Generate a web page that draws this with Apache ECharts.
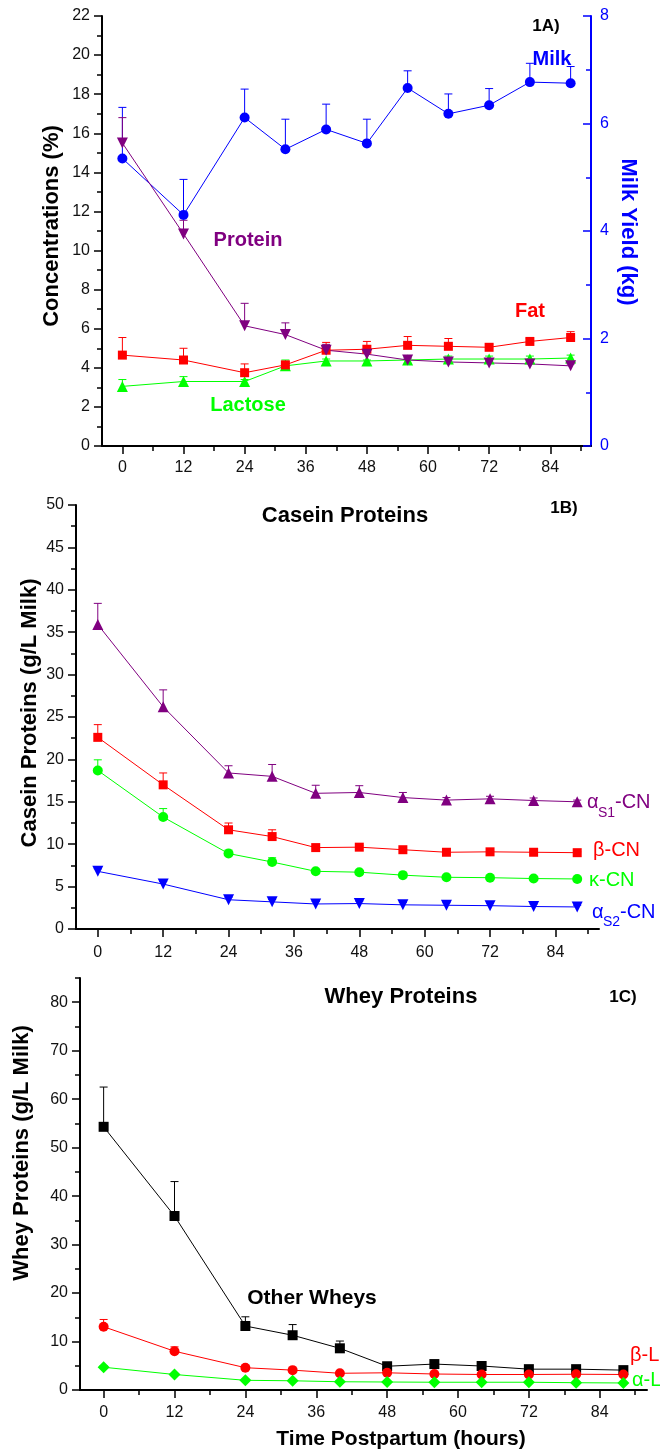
<!DOCTYPE html>
<html>
<head>
<meta charset="utf-8">
<script src="https://cdn.jsdelivr.net/npm/echarts@6/dist/echarts.min.js"></script>
<style>
  html, body { margin: 0; padding: 0; background: #fff; }
  #chart { width: 660px; height: 1452px; }
</style>
</head>
<body>
<div id="chart"></div>
<script>
const FONT = '"Liberation Sans", Arial, sans-serif';

// time points (hours postpartum)
const hours = [0, 12, 24, 32, 40, 48, 56, 64, 72, 80, 88];
const xMajor = [0, 12, 24, 36, 48, 60, 72, 84];
const xMinor = [6, 18, 30, 42, 54, 66, 78, 90];

// 1A) concentrations (%) and milk yield (kg)
const protein = [15.5, 10.85, 6.15, 5.7, 4.9, 4.7, 4.4, 4.3, 4.25, 4.2, 4.1];
const proteinErr = [1.3, 0.7, 1.15, 0.6, 0.3, 0.2, 0.1, 0.1, 0.1, 0.1, 0.1];
const fat = [4.65, 4.4, 3.75, 4.15, 4.9, 4.95, 5.15, 5.1, 5.05, 5.35, 5.55];
const fatErr = [0.9, 0.6, 0.45, 0.15, 0.4, 0.4, 0.45, 0.4, 0.15, 0.15, 0.3];
const lactose = [3.05, 3.3, 3.3, 4.1, 4.35, 4.35, 4.4, 4.45, 4.45, 4.45, 4.5];
const lactoseErr = [0.35, 0.25, 0.1, 0.3, 0.1, 0.05, 0.1, 0.15, 0.15, 0.15, 0.15];
const milk = [5.35, 4.3, 6.11, 5.52, 5.89, 5.63, 6.66, 6.18, 6.34, 6.77, 6.75];
const milkErr = [0.95, 0.66, 0.53, 0.56, 0.47, 0.45, 0.32, 0.37, 0.31, 0.35, 0.31];
const concMajor = [0, 2, 4, 6, 8, 10, 12, 14, 16, 18, 20, 22];
const concMinor = [1, 3, 5, 7, 9, 11, 13, 15, 17, 19, 21];
const yieldMajor = [0, 2, 4, 6, 8];
const yieldMinor = [1, 3, 5, 7];

// 1B) casein proteins (g/L milk)
const as1CN = [35.9, 26.2, 18.4, 18.0, 16.0, 16.1, 15.5, 15.2, 15.35, 15.15, 15.0];
const as1Err = [2.5, 2.0, 0.85, 1.4, 0.95, 0.8, 0.6, 0.3, 0.3, 0.3, 0.2];
const betaCN = [22.6, 17.0, 11.7, 10.9, 9.6, 9.65, 9.35, 9.05, 9.1, 9.05, 9.0];
const betaErr = [1.5, 1.4, 0.8, 0.8, 0.2, 0.2, 0.2, 0.2, 0.1, 0.1, 0.1];
const kappaCN = [18.7, 13.2, 8.9, 7.9, 6.8, 6.7, 6.35, 6.1, 6.05, 5.95, 5.9];
const kappaErr = [1.25, 1.0, 0.4, 0.5, 0.2, 0.2, 0.15, 0.1, 0.1, 0.1, 0.1];
const as2CN = [6.8, 5.3, 3.45, 3.2, 2.95, 3.0, 2.85, 2.8, 2.75, 2.65, 2.6];
const as2Err = [0.3, 0.3, 0.3, 0.3, 0.3, 0.3, 0.3, 0.3, 0.3, 0.3, 0.2];
const caseinMajor = [0, 5, 10, 15, 20, 25, 30, 35, 40, 45, 50];
const caseinMinor = [2.5, 7.5, 12.5, 17.5, 22.5, 27.5, 32.5, 37.5, 42.5, 47.5];

// 1C) whey proteins (g/L milk)
const otherWhey = [54.3, 35.9, 13.2, 11.3, 8.6, 4.9, 5.35, 4.95, 4.3, 4.3, 4.1];
const otherErr = [8.2, 7.1, 1.9, 2.2, 1.5, 0.3, 0.3, 0.3, 0.3, 0.3, 0.3];
const betaLg = [13.05, 8.0, 4.6, 4.1, 3.45, 3.55, 3.3, 3.2, 3.2, 3.25, 3.2];
const betaLgErr = [1.5, 0.9, 0.3, 0.2, 0.2, 0.2, 0.2, 0.2, 0.2, 0.2, 0.2];
const alphaLa = [4.7, 3.2, 2.0, 1.9, 1.7, 1.65, 1.6, 1.6, 1.6, 1.5, 1.45];
const alphaLaErr = [0.3, 0.2, 0.2, 0.2, 0.1, 0.1, 0.1, 0.1, 0.1, 0.1, 0.1];
const wheyMajor = [0, 10, 20, 30, 40, 50, 60, 70, 80];
const wheyMinor = [5, 15, 25, 35, 45, 55, 65, 75, 85];

const chart = echarts.init(document.getElementById('chart'), null, { renderer: 'canvas' });

function xAxes(grid, margin) {
  return [
    {
      gridIndex: grid, type: 'value', min: -4, max: 92, position: 'bottom',
      axisLine: { onZero: false, lineStyle: { color: '#000', width: 2 } },
      axisTick: { customValues: xMajor, length: 8, lineStyle: { color: '#000', width: 1.5 } },
      axisLabel: { customValues: xMajor, margin: margin, fontSize: 16, color: '#111', fontFamily: FONT },
      splitLine: { show: false }
    },
    {
      gridIndex: grid, type: 'value', min: -4, max: 92, position: 'bottom',
      axisLine: { show: false, onZero: false },
      axisTick: { customValues: xMinor, length: 5, lineStyle: { color: '#000', width: 1.5 } },
      axisLabel: { show: false },
      splitLine: { show: false }
    }
  ];
}

function yAxes(grid, max, major, minor, opts) {
  const o = Object.assign({ position: 'left', color: '#000', labelColor: '#111', inside: false, margin: 12 }, opts);
  return [
    {
      gridIndex: grid, type: 'value', min: 0, max: max, position: o.position,
      axisLine: { show: true, onZero: false, lineStyle: { color: o.color, width: 2 } },
      axisTick: { show: true, inside: o.inside, customValues: major, length: 8, lineStyle: { color: o.color, width: 1.5 } },
      axisLabel: { customValues: major, margin: o.margin, fontSize: 16, color: o.labelColor, fontFamily: FONT },
      splitLine: { show: false }
    },
    {
      gridIndex: grid, type: 'value', min: 0, max: max, position: o.position,
      axisLine: { show: false, onZero: false },
      axisTick: { show: true, inside: o.inside, customValues: minor, length: 5, lineStyle: { color: o.color, width: 1.5 } },
      axisLabel: { show: false },
      splitLine: { show: false }
    }
  ];
}

function pairs(vals) {
  return hours.map((h, i) => [h, vals[i]]);
}

function lineSeries(name, vals, color, symbol, size, xi, yi, rotate) {
  return {
    name: name, type: 'line', xAxisIndex: xi, yAxisIndex: yi,
    data: pairs(vals),
    symbol: symbol, symbolSize: size, symbolRotate: rotate || 0,
    showAllSymbol: true,
    lineStyle: { color: color, width: 1 },
    itemStyle: { color: color },
    z: 3, silent: true
  };
}

function errSeries(vals, errs, color, xi, yi) {
  return {
    type: 'custom', xAxisIndex: xi, yAxisIndex: yi, silent: true, z: 2,
    data: hours.map((h, i) => [h, vals[i], vals[i] + errs[i]]),
    encode: { x: 0, y: [1, 2] },
    renderItem: (params, api) => {
      const base = api.coord([api.value(0), api.value(1)]);
      const top = api.coord([api.value(0), api.value(2)]);
      return {
        type: 'group',
        children: [
          { type: 'line', shape: { x1: base[0], y1: base[1], x2: top[0], y2: top[1] }, style: { stroke: color, lineWidth: 1 } },
          { type: 'line', shape: { x1: top[0] - 4, y1: top[1], x2: top[0] + 4, y2: top[1] }, style: { stroke: color, lineWidth: 1 } }
        ]
      };
    }
  };
}

function label(text, x, y, color, size, bold, extra) {
  return Object.assign({
    type: 'text', x: x, y: y, silent: true,
    style: {
      text: text, fill: color, font: (bold ? 'bold ' : '') + size + 'px ' + FONT,
      align: 'center', verticalAlign: 'middle'
    }
  }, extra || {});
}

function leftText(text, x, y, color, size) {
  return {
    type: 'text', x: x, y: y, silent: true,
    style: { text: text, fill: color, font: size + 'px ' + FONT, align: 'left', verticalAlign: 'middle' }
  };
}

const PURPLE = '#800080', RED = '#ff0000', GREEN = '#00ff00', BLUE = '#0000ff', BLACK = '#000000';

chart.setOption({
  animation: false,
  backgroundColor: '#fff',
  grid: [
    { left: 102, top: 16, width: 489, height: 430 },
    { left: 76, top: 505, width: 523, height: 424 },
    { left: 80, top: 978, width: 567, height: 412 }
  ],
  xAxis: [].concat(xAxes(0, 14), xAxes(1, 16), xAxes(2, 15)),
  yAxis: [].concat(
    yAxes(0, 22, concMajor, concMinor),
    yAxes(0, 8, yieldMajor, yieldMinor, { position: 'right', color: BLUE, labelColor: BLUE, inside: true, margin: 9 }),
    yAxes(1, 50, caseinMajor, caseinMinor),
    yAxes(2, 85, wheyMajor, wheyMinor)
  ),
  series: [
    // 1A
    errSeries(milk, milkErr, BLUE, 0, 2),
    errSeries(protein, proteinErr, PURPLE, 0, 0),
    errSeries(fat, fatErr, RED, 0, 0),
    errSeries(lactose, lactoseErr, GREEN, 0, 0),
    lineSeries('Milk', milk, BLUE, 'circle', 10, 0, 2),
    lineSeries('Lactose', lactose, GREEN, 'triangle', 11, 0, 0),
    lineSeries('Fat', fat, RED, 'rect', 9, 0, 0),
    lineSeries('Protein', protein, PURPLE, 'triangle', 11, 0, 0, 180),
    // 1B
    errSeries(as1CN, as1Err, PURPLE, 2, 4),
    errSeries(betaCN, betaErr, RED, 2, 4),
    errSeries(kappaCN, kappaErr, GREEN, 2, 4),
    errSeries(as2CN, as2Err, BLUE, 2, 4),
    lineSeries('αS1-CN', as1CN, PURPLE, 'triangle', 11, 2, 4),
    lineSeries('β-CN', betaCN, RED, 'rect', 9, 2, 4),
    lineSeries('κ-CN', kappaCN, GREEN, 'circle', 10, 2, 4),
    lineSeries('αS2-CN', as2CN, BLUE, 'triangle', 11, 2, 4, 180),
    // 1C
    errSeries(otherWhey, otherErr, BLACK, 4, 6),
    errSeries(betaLg, betaLgErr, RED, 4, 6),
    errSeries(alphaLa, alphaLaErr, GREEN, 4, 6),
    lineSeries('Other Wheys', otherWhey, BLACK, 'rect', 10, 4, 6),
    lineSeries('β-L', betaLg, RED, 'circle', 10, 4, 6),
    lineSeries('α-L', alphaLa, GREEN, 'diamond', 12, 4, 6)
  ],
  graphic: [
    // panel A
    label('Concentrations (%)', 52, 226, BLACK, 22, true, { rotation: Math.PI / 2 }),
    label('Milk Yield (kg)', 628, 232, BLUE, 22, true, { rotation: -Math.PI / 2 }),
    label('1A)', 546, 26, BLACK, 17, true),
    label('Milk', 552, 59, BLUE, 20, true),
    label('Protein', 248, 240, PURPLE, 20, true),
    label('Fat', 530, 311, RED, 20, true),
    label('Lactose', 248, 405, GREEN, 20, true),
    // panel B
    label('Casein Proteins (g/L Milk)', 30, 713, BLACK, 22, true, { rotation: Math.PI / 2 }),
    label('Casein Proteins', 345, 516, BLACK, 22, true),
    label('1B)', 564, 508, BLACK, 17, true),
    leftText('α', 587, 802, PURPLE, 20),
    leftText('S1', 598, 813, PURPLE, 14),
    leftText('-CN', 615, 802, PURPLE, 20),
    leftText('β-CN', 593, 850, RED, 20),
    leftText('κ-CN', 589, 880, GREEN, 20),
    leftText('α', 592, 912, BLUE, 20),
    leftText('S2', 603, 922, BLUE, 14),
    leftText('-CN', 620, 912, BLUE, 20),
    // panel C
    label('Whey Proteins (g/L Milk)', 22, 1153, BLACK, 22, true, { rotation: Math.PI / 2 }),
    label('Whey Proteins', 401, 997, BLACK, 22, true),
    label('1C)', 623, 997, BLACK, 17, true),
    label('Other Wheys', 312, 1298, BLACK, 21, true),
    leftText('β-L', 630, 1355, RED, 20),
    leftText('α-L', 632, 1380, GREEN, 20),
    label('Time Postpartum (hours)', 401, 1439, BLACK, 21, true)
  ]
});

window.addEventListener('resize', () => chart.resize());
</script>
</body>
</html>
